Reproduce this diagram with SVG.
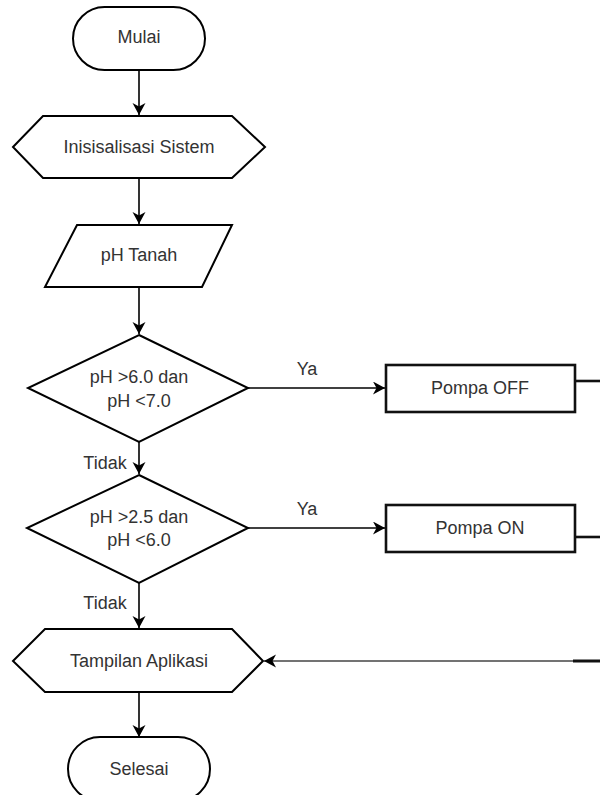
<svg xmlns="http://www.w3.org/2000/svg" width="600" height="795" viewBox="0 0 600 795">
<style>
.s{fill:#fff;stroke:#000;stroke-width:2}
.r{fill:#fff;stroke:#111;stroke-width:2.6}
.t{font-family:"Liberation Sans",Arial,sans-serif;font-size:18px;fill:#333;text-anchor:middle}
.c{fill:none;stroke:#000;stroke-width:1.6}
</style>
<defs>
<marker id="arr" markerUnits="userSpaceOnUse" markerWidth="14" markerHeight="14" refX="12" refY="6.5" orient="auto">
<path d="M0,0 L12,6.5 L0,13 L3.5,6.5 Z" fill="#000"/>
</marker>
</defs>
<rect width="600" height="795" fill="#fff"/>
<g id="connectors">
<line class="c" x1="139" y1="70" x2="139" y2="115" marker-end="url(#arr)"/>
<line class="c" x1="139" y1="178" x2="139" y2="224" marker-end="url(#arr)"/>
<line class="c" x1="139" y1="287" x2="139" y2="334" marker-end="url(#arr)"/>
<line class="c" x1="139" y1="442" x2="139" y2="474" marker-end="url(#arr)"/>
<line class="c" x1="139" y1="583" x2="139" y2="628" marker-end="url(#arr)"/>
<line class="c" x1="139" y1="692" x2="139" y2="737" marker-end="url(#arr)"/>
<line class="c" x1="248" y1="388" x2="385" y2="388" marker-end="url(#arr)"/>
<line class="c" x1="248" y1="528" x2="385" y2="528" marker-end="url(#arr)"/>
<line x1="575" y1="381" x2="600" y2="381" stroke="#111" stroke-width="2.6"/>
<line x1="575" y1="537" x2="600" y2="537" stroke="#111" stroke-width="2.6"/>
<line x1="573" y1="661" x2="264" y2="661" stroke="#444" stroke-width="1.6" marker-end="url(#arr)"/>
<line x1="573" y1="661" x2="600" y2="661" stroke="#111" stroke-width="3"/>
<text class="t" x="307" y="375">Ya</text>
<text class="t" x="307" y="515">Ya</text>
<text class="t" x="105" y="469">Tidak</text>
<text class="t" x="105" y="609">Tidak</text>
</g>
<g id="mulai">
<rect class="s" x="73" y="7" width="132" height="63" rx="31.5" ry="31.5"/>
<text class="t" x="139" y="43">Mulai</text>
</g>
<g id="inisialisasi">
<polygon class="s" points="13,147 43,116 232,116 265,147 232,178 43,178"/>
<text class="t" x="139" y="153">Inisisalisasi Sistem</text>
</g>
<g id="phtanah">
<polygon class="s" points="77,225 232,225 202,287 45,287"/>
<text class="t" x="139" y="261">pH Tanah</text>
</g>
<g id="cek1">
<polygon class="s" points="139,335 248,388 139,442 28,388"/>
<text class="t" x="139" y="383">pH &gt;6.0 dan</text>
<text class="t" x="139" y="407">pH &lt;7.0</text>
</g>
<g id="cek2">
<polygon class="s" points="139,475 248,528 139,583 27,528"/>
<text class="t" x="139" y="523">pH &gt;2.5 dan</text>
<text class="t" x="139" y="546">pH &lt;6.0</text>
</g>
<g id="pompaoff">
<rect class="r" x="386" y="365" width="189" height="47"/>
<text class="t" x="480" y="394">Pompa OFF</text>
</g>
<g id="pompaon">
<rect class="r" x="386" y="505" width="189" height="47"/>
<text class="t" x="480" y="534">Pompa ON</text>
</g>
<g id="tampilan">
<polygon class="s" points="13,661 45,629 232,629 263,661 232,692 45,692"/>
<text class="t" x="139" y="667">Tampilan Aplikasi</text>
</g>
<g id="selesai">
<rect class="s" x="68" y="737" width="142" height="64" rx="32" ry="32"/>
<text class="t" x="139" y="775">Selesai</text>
</g>
</svg>
